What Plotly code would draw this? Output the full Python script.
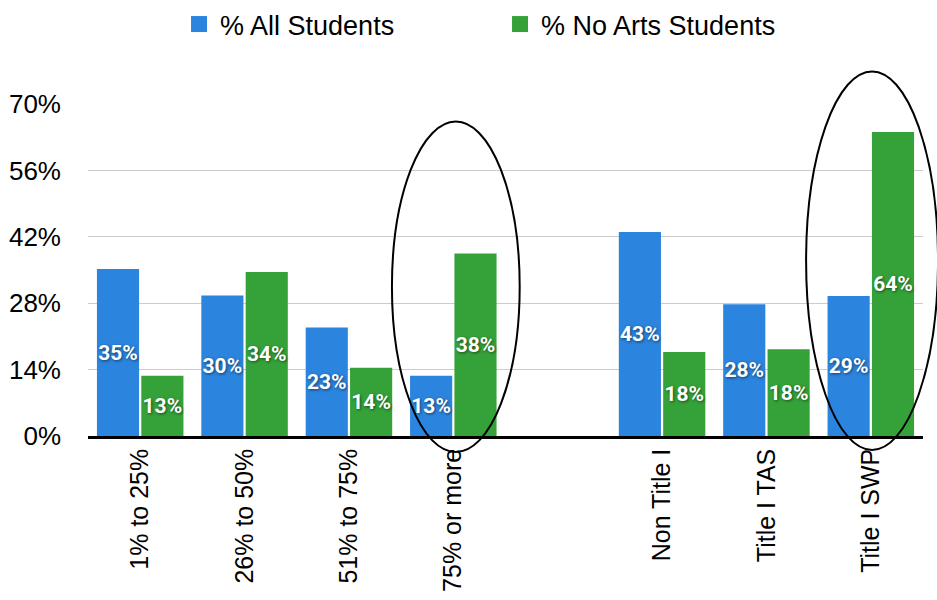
import plotly.graph_objects as go

categories = ["1% to 25%", "26% to 50%", "51% to 75%", "75% or more",
              "Non Title I", "Title I TAS", "Title I SWP"]
all_students = [35.2, 29.6, 22.9, 12.7, 43.0, 27.8, 29.5]
no_arts_students = [12.7, 34.6, 14.4, 38.5, 17.7, 18.3, 64.1]
all_labels = ["35%", "30%", "23%", "13%", "43%", "28%", "29%"]
no_arts_labels = ["13%", "34%", "14%", "38%", "18%", "18%", "64%"]
y_ticks = [0, 14, 28, 42, 56, 70]
y_tick_labels = ["0%", "14%", "28%", "42%", "56%", "70%"]
series_names = ["% All Students", "% No Arts Students"]

BLUE = "#2b84de"
GREEN = "#35a239"
FONT = "Liberation Sans, Arial, Helvetica, sans-serif"
LABEL_FONT = "Roboto, Liberation Sans, sans-serif"

# one empty slot between the two groups of categories
x_pos = [i + (1 if i >= 4 else 0) for i in range(len(categories))]

fig = go.Figure()
for vals, labels, color, name in [(all_students, all_labels, BLUE, series_names[0]),
                                  (no_arts_students, no_arts_labels, GREEN, series_names[1])]:
    fig.add_trace(go.Bar(
        x=x_pos, y=vals, text=labels, texttemplate="%{text}",
        textposition="inside", insidetextanchor="middle", textangle=0,
        textfont=dict(family=LABEL_FONT, size=21, color="white", weight="bold",
                      shadow="1px 1px 3px rgba(0,0,0,0.55)"),
        marker=dict(color=color, line=dict(width=0)),
        showlegend=False, name=name, hoverinfo="skip"))
    fig.add_trace(go.Scatter(
        x=[None], y=[None], mode="markers", name=name,
        marker=dict(symbol="square", size=16, color=color)))

fig.update_layout(
    width=937, height=600,
    margin=dict(l=88, r=14, t=104, b=164),
    paper_bgcolor="white", plot_bgcolor="white",
    barmode="group", bargap=0.15, bargroupgap=0.05,
    uniformtext=dict(minsize=21, mode="show"),
    font=dict(family=FONT, size=25, color="black"),
    legend=dict(orientation="h", xref="container", yref="container",
                x=0.19, xanchor="left", y=1.0, yanchor="top",
                font=dict(size=27), entrywidth=274, itemwidth=32,
                bgcolor="rgba(0,0,0,0)"),
    xaxis=dict(range=[-0.5, 7.5], tickmode="array", tickvals=x_pos,
               ticktext=categories, tickangle=-90, showgrid=False,
               showline=True, linecolor="black", linewidth=2.5,
               ticks="", tickfont=dict(size=25), zeroline=False,
               automargin=False),
    yaxis=dict(range=[0, 70], tickmode="array", tickvals=y_ticks,
               ticktext=y_tick_labels, showgrid=True, gridcolor="#cccccc",
               gridwidth=1, zeroline=False, showline=False,
               ticklabelstandoff=26, tickfont=dict(size=26),
               automargin=False),
    shapes=[
        dict(type="circle", xref="paper", yref="paper",
             x0=0.364, x1=0.517, y0=-0.048, y1=0.947,
             line=dict(color="black", width=2), layer="above"),
        dict(type="circle", xref="paper", yref="paper",
             x0=0.860, x1=1.018, y0=-0.042, y1=1.098,
             line=dict(color="black", width=2), layer="above"),
    ],
)

fig.write_html("out.html", config={"displayModeBar": False},
               post_script="document.body.style.margin='0';")
